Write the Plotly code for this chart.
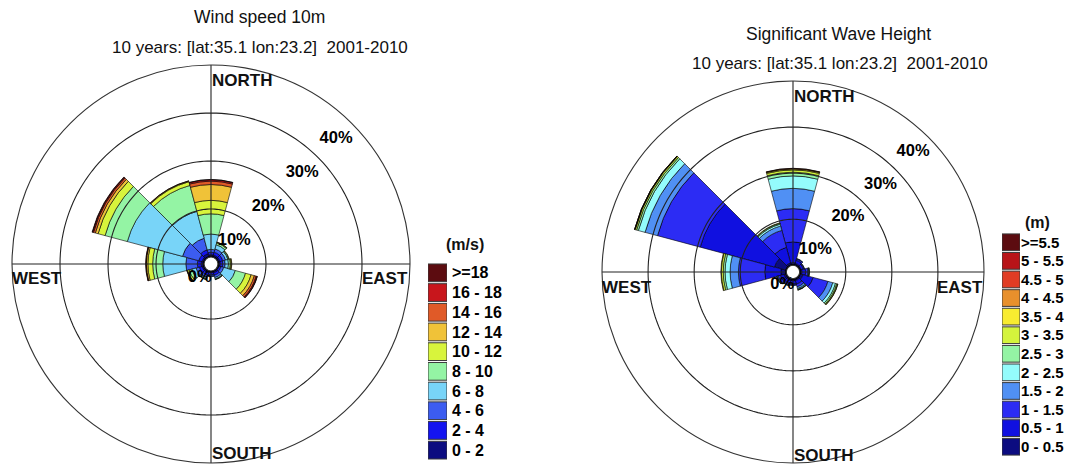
import plotly.graph_objects as go

# page body adds an 8px margin; figure is sized to fit the 1073x466 window
OFF = 8
W, H = 1073 - OFF, 466 - OFF

# ---------------- data ----------------
DIRECTIONS = [0, 30, 60, 90, 120, 150, 180, 210, 240, 270, 300, 330]
RING_TICKS = [10, 20, 30, 40]
RING_LABELS = ["10%", "20%", "30%", "40%"]

# Wind speed classes (m/s) -> frequency (%) per direction sector
WIND_BINS = ["0 - 2", "2 - 4", "4 - 6", "6 - 8", "8 - 10", "10 - 12",
             "12 - 14", "14 - 16", "16 - 18", ">=18"]
WIND_COLORS = ["#0c0c80", "#1414f0", "#3c5cf0", "#78d4f8", "#94f4a4",
               "#d8f43c", "#f0c238", "#e05a28", "#c8161c", "#5c0c10"]
wind_0_2 = [0.5, 0.5, 0.5, 0.5, 0.3, 0.5, 0.4, 0.5, 0.5, 0.6, 0.5, 0.8]
wind_2_4 = [0.5, 0.6, 0.6, 0.5, 0.4, 0.5, 0.4, 0.5, 0.6, 0.8, 0.7, 0.8]
wind_4_6 = [0.6, 0.7, 0.6, 0.5, 0.6, 0.5, 0.3, 0.5, 0.7, 2.4, 3.5, 2.5]
wind_6_8 = [3.2, 0.9, 0.5, 0.7, 2.5, 0.3, 0.1, 0.3, 0.9, 4.8, 11.9, 5.8]
wind_8_10 = [4.2, 0.4, 0.2, 0.4, 2.2, 0.1, 0.0, 0.15, 0.6, 2.1, 4.8, 5.6]
wind_10_12 = [2.8, 0.15, 0.1, 0.2, 1.2, 0.05, 0.0, 0.05, 0.35, 1.0, 1.5, 0.8]
wind_12_14 = [3.3, 0.05, 0.0, 0.1, 0.7, 0.0, 0.0, 0.0, 0.1, 0.3, 0.6, 0.15]
wind_14_16 = [0.7, 0.0, 0.0, 0.0, 0.4, 0.0, 0.0, 0.0, 0.05, 0.1, 0.4, 0.05]
wind_16_18 = [0.3, 0.0, 0.0, 0.0, 0.2, 0.0, 0.0, 0.0, 0.0, 0.05, 0.2, 0.0]
wind_18_up = [0.05, 0.0, 0.0, 0.0, 0.05, 0.0, 0.0, 0.0, 0.0, 0.0, 0.1, 0.0]
WIND_SERIES = [wind_0_2, wind_2_4, wind_4_6, wind_6_8, wind_8_10, wind_10_12,
               wind_12_14, wind_14_16, wind_16_18, wind_18_up]

# Significant wave height classes (m) -> frequency (%) per direction sector
WAVE_BINS = ["0 - 0.5", "0.5 - 1", "1 - 1.5", "1.5 - 2", "2 - 2.5", "2.5 - 3",
             "3 - 3.5", "3.5 - 4", "4 - 4.5", "4.5 - 5", "5 - 5.5", ">=5.5"]
WAVE_COLORS = ["#0c0c80", "#1010e0", "#2c2cf4", "#5090f4", "#94fcfc", "#94f4a4",
               "#d4f43c", "#f8ec30", "#e8902c", "#e03c24", "#b81418", "#5c0c10"]
wave_0_05 = [0.6, 0.5, 0.4, 0.5, 0.8, 0.5, 0.5, 0.5, 0.6, 1.2, 2.7, 0.6]
wave_05_1 = [4.5, 0.7, 0.5, 0.8, 2.3, 0.8, 0.6, 0.6, 0.8, 3.5, 16.7, 3.5]
wave_1_15 = [7.2, 0.3, 0.2, 0.5, 3.3, 0.6, 0.3, 0.4, 0.5, 5.7, 9.6, 3.8]
wave_15_2 = [4.4, 0.1, 0.05, 0.2, 1.1, 0.4, 0.1, 0.15, 0.2, 1.8, 2.8, 1.0]
wave_2_25 = [2.7, 0.0, 0.0, 0.1, 0.6, 0.2, 0.0, 0.05, 0.1, 1.1, 1.5, 0.4]
wave_25_3 = [0.8, 0.0, 0.0, 0.05, 0.3, 0.1, 0.0, 0.0, 0.05, 0.4, 0.4, 0.2]
wave_3_35 = [0.5, 0.0, 0.0, 0.0, 0.2, 0.05, 0.0, 0.0, 0.0, 0.4, 0.3, 0.1]
wave_35_4 = [0.2, 0.0, 0.0, 0.0, 0.05, 0.0, 0.0, 0.0, 0.0, 0.1, 0.1, 0.0]
wave_4_45 = [0.1, 0.0, 0.0, 0.0, 0.0, 0.0, 0.0, 0.0, 0.0, 0.0, 0.05, 0.0]
wave_45_5 = [0.05, 0.0, 0.0, 0.0, 0.0, 0.0, 0.0, 0.0, 0.0, 0.0, 0.02, 0.0]
wave_5_55 = [0.0, 0.0, 0.0, 0.0, 0.0, 0.0, 0.0, 0.0, 0.0, 0.0, 0.0, 0.0]
wave_55_up = [0.0, 0.0, 0.0, 0.0, 0.0, 0.0, 0.0, 0.0, 0.0, 0.0, 0.0, 0.0]
WAVE_SERIES = [wave_0_05, wave_05_1, wave_1_15, wave_15_2, wave_2_25, wave_25_3,
               wave_3_35, wave_35_4, wave_4_45, wave_45_5, wave_5_55, wave_55_up]

SUBTITLE = "10 years: [lat:35.1 lon:23.2] \u00a02001-2010"

# ---------------- helpers ----------------
FONT = "Liberation Sans, Arial, Helvetica, sans-serif"


def px(x):
    return (x - OFF) / W


def py(y):
    return 1 - (y - OFF) / H


fig = go.Figure()

SECTOR = 30
R_MAX = RING_TICKS[-1]


def add_rose(series, names, colors, polar):
    for vals, name, col in zip(series, names, colors):
        fig.add_trace(go.Barpolar(
            r=vals, theta=DIRECTIONS, width=[SECTOR] * len(DIRECTIONS),
            name=name, marker=dict(color=col, line=dict(color="black", width=0.6)),
            subplot=polar, showlegend=False, hoverinfo="name+r+theta",
        ))
    # rings drawn above the bars
    ring_theta, ring_r = [], []
    for t in RING_TICKS[:-1]:
        ring_theta += list(range(0, 361, 2)) + [None]
        ring_r += [t] * 181 + [None]
    fig.add_trace(go.Scatterpolar(r=ring_r, theta=ring_theta, mode="lines",
                                  line=dict(color="#222", width=1.1), subplot=polar,
                                  showlegend=False, hoverinfo="skip", connectgaps=False))
    # compass cross lines
    cr, ct = [], []
    for d in [0, 90, 180, 270]:
        cr += [0, R_MAX, None]
        ct += [d, d, None]
    fig.add_trace(go.Scatterpolar(r=cr, theta=ct, mode="lines",
                                  line=dict(color="#222", width=1.1), subplot=polar,
                                  showlegend=False, hoverinfo="skip", connectgaps=False))
    # hole outline
    fig.add_trace(go.Scatterpolar(r=[0] * 181, theta=list(range(0, 361, 2)), mode="lines",
                                  line=dict(color="black", width=2.5), subplot=polar,
                                  showlegend=False, hoverinfo="skip"))
    # ring labels
    fig.add_trace(go.Scatterpolar(r=[t - 4.6 for t in RING_TICKS], theta=[45] * len(RING_TICKS),
                                  text=RING_LABELS, mode="text",
                                  textfont=dict(family=FONT, size=16.5, color="black", weight="bold"),
                                  subplot=polar, showlegend=False, hoverinfo="skip"))
    fig.add_trace(go.Scatterpolar(r=[2.2], theta=[220], text=["0%"], mode="text",
                                  textfont=dict(family=FONT, size=16.5, color="black", weight="bold"),
                                  subplot=polar, showlegend=False, hoverinfo="skip"))


add_rose(WIND_SERIES, WIND_BINS, WIND_COLORS, "polar")
add_rose(WAVE_SERIES, WAVE_BINS, WAVE_COLORS, "polar2")


# colour keys (one box per class), drawn on small cartesian axes
def add_key(names, colors, xa, ya):
    n = len(names)
    fig.add_trace(go.Bar(x=[1] * n, y=list(range(n)), orientation="h", width=0.9,
                         marker=dict(color=colors, line=dict(color="#3a3a3a", width=1)),
                         xaxis=xa, yaxis=ya, showlegend=False, hoverinfo="skip"))


add_key(WIND_BINS, WIND_COLORS, "x", "y")
add_key(WAVE_BINS, WAVE_COLORS, "x2", "y2")


def key_axes(names, x0, x1, ytop, ybot, xname, size, standoff):
    n = len(names)
    xa = dict(domain=[px(x0), px(x1)], range=[0, 1], visible=False, fixedrange=True)
    ya = dict(domain=[py(ybot), py(ytop)], range=[-0.5, n - 0.5], anchor=xname,
              side="right", tickmode="array", tickvals=list(range(n)), ticktext=names,
              ticks="", showgrid=False, zeroline=False, showline=False, fixedrange=True,
              ticklabelstandoff=standoff,
              tickfont=dict(family=FONT, size=size, color="black", weight="bold"))
    return xa, ya


xa1, ya1 = key_axes(WIND_BINS, 428, 447, 263, 460, "x", 16, 4)
xa2, ya2 = key_axes(WAVE_BINS, 1002, 1020, 233, 456, "x2", 15, 0)


def polar_cfg(x0, x1, ytop, ybot):
    return dict(
        domain=dict(x=[px(x0), px(x1)], y=[py(ybot), py(ytop)]),
        hole=0.035,
        bgcolor="white",
        barmode="stack",
        radialaxis=dict(range=[0, R_MAX], showticklabels=False, ticks="",
                        showgrid=False, showline=False),
        angularaxis=dict(rotation=90, direction="clockwise", showticklabels=False,
                         ticks="", showgrid=False, showline=True,
                         linecolor="#333", linewidth=1.1),
    )


annotations = []


def text(x, y, s, size, bold=False, anchor="center"):
    annotations.append(dict(x=px(x), y=py(y), xref="paper", yref="paper", text=s,
                            showarrow=False, xanchor=anchor, yanchor="middle",
                            font=dict(family=FONT, size=size, color="#111",
                                      weight="bold" if bold else "normal")))


text(259, 17, "Wind speed 10m", 17.5)
text(260, 48, SUBTITLE, 17)
text(838, 34, "Significant Wave Height", 17.5)
text(840, 64, SUBTITLE, 17)

text(210, 81, "NORTH", 17, True, "left")
text(210, 453, "SOUTH", 17, True, "left")
text(10, 278, "WEST", 17, True, "left")
text(410, 278, "EAST", 17, True, "right")
text(792, 97, "NORTH", 17, True, "left")
text(792, 455, "SOUTH", 17, True, "left")
text(600, 287, "WEST", 17, True, "left")
text(985, 287, "EAST", 17, True, "right")

text(465, 244, "(m/s)", 16, True)
text(1037, 222, "(m)", 16, True)

fig.update_layout(
    width=W, height=H, autosize=False,
    margin=dict(l=0, r=0, t=0, b=0, autoexpand=False),
    paper_bgcolor="white", plot_bgcolor="white",
    polar=polar_cfg(12, 410, 65, 463),
    polar2=polar_cfg(602, 984, 81, 463),
    xaxis=xa1, yaxis=ya1, xaxis2=xa2, yaxis2=ya2,
    annotations=annotations,
    showlegend=False,
)

fig.write_html("out.html")
